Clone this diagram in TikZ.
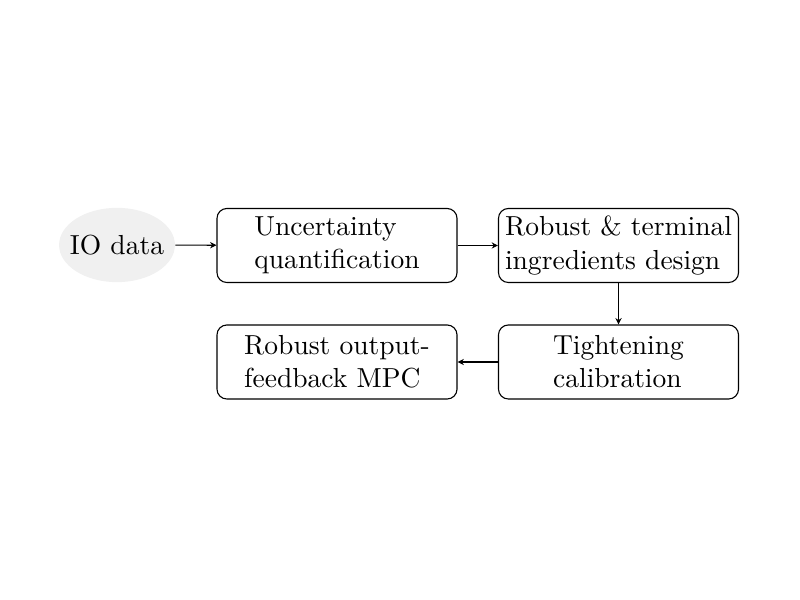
\documentclass[tikz,border=0pt]{standalone}
\usetikzlibrary{shapes.geometric,arrows.meta}
\begin{document}
\begin{tikzpicture}[x=0.3633pt,y=-0.3633pt,
  blockbox/.style={draw,rounded corners=3.6pt,minimum width=87.2pt,minimum height=26.9pt,align=left,inner sep=2pt},
  datanode/.style={ellipse,fill=gray!12,minimum height=27pt,inner xsep=-2.2pt,inner ysep=0pt},
  flow/.style={-{Stealth[length=2.3pt,width=2.3pt]}}]
\useasboundingbox (0,0) rectangle (800,600);
\node[datanode] (io) at (117,245) {IO data};
\node[blockbox] (b1) at (337,245.5) {Uncertainty\\quantification};
\node[blockbox] (b2) at (618.5,245.5) {Robust \& terminal\\ingredients design};
\node[blockbox] (b3) at (618.5,362) {Tightening\\calibration};
\node[blockbox] (b4) at (337,362) {Robust output-\\feedback MPC};
\draw[flow] (io) -- (b1);
\draw[flow] (b1) -- (b2);
\draw[flow] (b2) -- (b3);
\draw[flow] (b3) -- (b4);
\end{tikzpicture}
\end{document}
